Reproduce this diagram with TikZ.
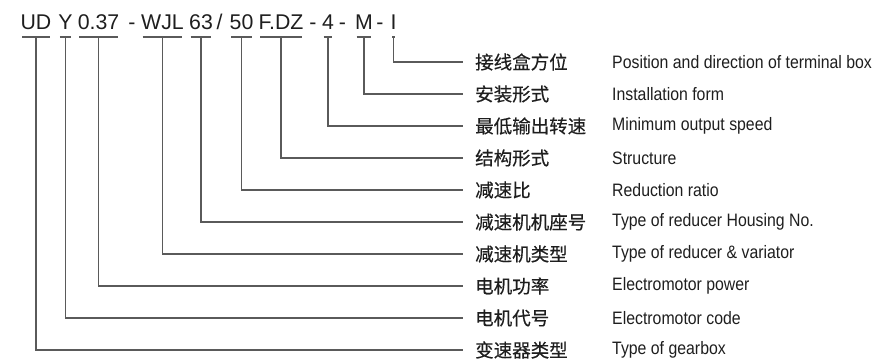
\documentclass[tikz,border=0pt]{standalone}
\usepackage{fontspec}
\setmainfont{Liberation Sans}
\newfontfamily\cjk[FakeBold=0.4]{Noto Sans CJK SC}
\newfontfamily\enfont[FakeStretch=0.88]{Liberation Sans}
\usetikzlibrary{calc}
\definecolor{linegray}{RGB}{90,90,90}
\definecolor{txt}{RGB}{30,30,30}
\begin{document}
\begin{tikzpicture}[x=1pt,y=-1pt,
  code/.style={inner sep=0pt,outer sep=0pt,anchor=base,text=txt,font=\fontsize{21.3}{24}\selectfont},
  cnlab/.style={inner xsep=12pt,inner ysep=0pt,anchor=west,text=txt,font=\cjk\fontsize{18.5}{20}\selectfont},
  enlab/.style={inner sep=0pt,anchor=west,text=txt,font=\enfont\fontsize{18}{20}\selectfont},
  conn/.style={draw=linegray,line width=1.2pt}]
\useasboundingbox (0,0) rectangle (874,359);
\coordinate (ul) at (0,37);
% code segments
\node[code] (ud)  at (36,29.3) {UD};
\node[code] (y)   at (65.5,29.3) {Y};
\node[code] (pw)  at (98.5,29.3) {0.37};
\node[code] (s1)  at (132,29.3) {-};
\node[code] (wjl) at (162.5,29.3) {WJL};
\node[code] (hs)  at (201,29.3) {63};
\node[code] (sl)  at (219.5,29.3) {/};
\node[code] (rr)  at (241.5,29.3) {50};
\node[code] (fdz) at (281,29.3) {F.DZ};
\node[code] (s2)  at (313,29.3) {-};
\node[code] (sp)  at (328,29.3) {4};
\node[code] (s3)  at (342.5,29.3) {-};
\node[code] (m)   at (364,29.3) {M};
\node[code] (s4)  at (380,29.3) {-};
\node[code] (ii)  at (393.5,29.3) {I};
% labels
\foreach \n/\r/\c/\e in {
  lii/62/接线盒方位/Position and direction of terminal box,
  lm/94/安装形式/Installation form,
  lsp/126/最低输出转速/Minimum output speed,
  lfdz/158/结构形式/Structure,
  lrr/190/减速比/Reduction ratio,
  lhs/222/减速机机座号/Type of reducer Housing No.,
  lwjl/254/减速机类型/Type of reducer \& variator,
  lpw/286/电机功率/Electromotor power,
  ly/318/电机代号/Electromotor code,
  lud/350/变速器类型/Type of gearbox}{
  \node[cnlab] (\n) at (463,\r) {\c};
  \node[enlab] (\n e) at (612,\r) {\e};
}
% underlines and connectors
\foreach \s/\l in {ud/lud,y/ly,pw/lpw,wjl/lwjl,hs/lhs,rr/lrr,fdz/lfdz,sp/lsp,m/lm,ii/lii}{
  \draw[conn] ($(\s.west |- ul)+(1.5,0)$) -- ($(\s.east |- ul)+(-1.5,0)$);
  \draw[conn] (\s.center |- ul) -- (\s.center |- \l.west) -- (\l.west);
}
\end{tikzpicture}
\end{document}
